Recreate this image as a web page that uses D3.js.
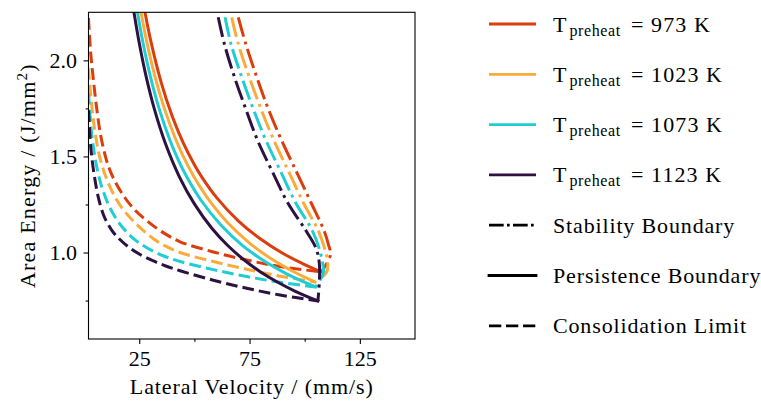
<!DOCTYPE html>
<html>
<head>
<meta charset="utf-8">
<script src="https://cdn.jsdelivr.net/npm/d3@7"></script>
<style>
  html, body { margin: 0; padding: 0; background: #fff; }
  svg { display: block; }
  text { font-family: "Liberation Serif", "Times New Roman", serif; fill: #000; }
</style>
</head>
<body>
<svg id="chart" width="761" height="401"></svg>
<script>
// Preheat temperatures (K), one colour per temperature
const temperatures = [973, 1023, 1073, 1123];

// Persistence boundary: [lateral velocity (mm/s), area energy (J/mm^2)]
const persistence973 = [[27.6,2.25],[30,2.113],[35,1.883],[40,1.708],[45,1.569],[50,1.457],[53.3,1.394],[60,1.287],[70,1.163],[80,1.07],[90,0.996],[100,0.937],[107.6,0.899]];
const persistence1023 = [[25.8,2.25],[28,2.119],[32,1.922],[36,1.763],[41,1.604],[45,1.499],[49.8,1.394],[56,1.283],[65,1.156],[75,1.049],[85,0.966],[95,0.9],[104.7,0.847]];
const persistence1073 = [[24.2,2.25],[26.5,2.103],[30,1.918],[34,1.749],[39,1.582],[43,1.474],[46.5,1.394],[53,1.272],[62,1.143],[72,1.035],[82,0.953],[92,0.888],[104.9,0.821]];
const persistence1123 = [[22.6,2.25],[25,2.09],[28,1.922],[32,1.741],[37,1.563],[43.2,1.394],[50,1.253],[58,1.125],[65,1.038],[73,0.957],[80,0.899],[88,0.844],[96,0.797],[106,0.748]];

// Consolidation limit
const consolidation973 = [[2.0,2.22],[2.6,2.10],[3.3,2.0],[4.2,1.9],[5.5,1.77],[7.2,1.63],[9.0,1.53],[11,1.45],[14,1.37],[18.5,1.285],[23,1.222],[28.4,1.166],[35,1.11],[43.5,1.056],[58.6,1.003],[73.7,0.961],[88.8,0.927],[107.6,0.899]];
const consolidation1023 = [[2.0,1.96],[3.0,1.82],[4.0,1.71],[5.2,1.61],[7,1.5],[9.5,1.405],[12,1.335],[15.5,1.26],[19,1.205],[23.1,1.155],[27,1.113],[31.4,1.072],[37,1.033],[43.5,1.0],[58.6,0.953],[73.7,0.913],[88.8,0.877],[104.7,0.847]];
const consolidation1073 = [[2.0,1.83],[3.0,1.67],[4.2,1.55],[6,1.43],[8,1.342],[11,1.25],[14,1.186],[17.5,1.13],[21.6,1.08],[26,1.042],[31.4,1.006],[37,0.978],[43.5,0.953],[58.6,0.911],[73.7,0.875],[88.8,0.845],[104.9,0.821]];
const consolidation1123 = [[2.0,1.74],[2.8,1.58],[3.45,1.5],[4.5,1.41],[6.4,1.29],[9,1.19],[12.5,1.117],[16,1.07],[20,1.03],[25,0.992],[31.4,0.956],[37,0.93],[43.5,0.905],[58.6,0.856],[73.7,0.814],[88.8,0.779],[106,0.748]];

// Stability boundary
const stability973 = [[69.9,2.224],[73.3,2.085],[78.2,1.915],[83.5,1.747],[89.6,1.582],[96.4,1.417],[102.9,1.259],[108.8,1.113],[110.8,1.04],[111.7,0.99],[107.6,0.899]];
const stability1023 = [[66.9,2.224],[69.9,2.085],[74.8,1.915],[80.2,1.747],[86.1,1.582],[92.9,1.417],[99.4,1.259],[106.2,1.113],[108.8,1.03],[110.3,0.96],[110.0,0.90],[104.7,0.847]];
const stability1073 = [[63.9,2.224],[66.6,2.085],[71.4,1.915],[76.7,1.747],[82.5,1.582],[89.3,1.417],[95.9,1.259],[103.5,1.113],[106.6,1.02],[108.2,0.94],[108.4,0.89],[104.9,0.821]];
const stability1123 = [[60.8,2.224],[63.6,2.085],[68.1,1.915],[73.3,1.747],[78.7,1.582],[85.5,1.417],[92.3,1.259],[100.6,1.113],[105.2,1.02],[106.6,0.947],[106.7,0.86],[106.0,0.748]];

// Axis ticks
const xMajorTicks = [25, 75, 125];
const xMinorTicks = [50, 100];
const yMajorTicks = [1.0, 1.5, 2.0];
const yMinorTicks = [0.75, 1.25, 1.75];

// Line-style legend entries
const boundaryNames = ["Stability Boundary", "Persistence Boundary", "Consolidation Limit"];

// ---- styling ----
const palette = ["#dc3d0c", "#fbab3c", "#1fcdd2", "#2c1141"];
const lineWidth = 3;
const dashStyles = {
  stability: "20 5 3 5",
  persistence: null,
  consolidation: "11.7 5.1"
};

const svg = d3.select("#chart");
const plotLeft = 88.5, plotRight = 415, plotTop = 12.3, plotBottom = 339;

const x = d3.scaleLinear().domain([2, 150]).range([plotLeft, plotRight]);
const y = d3.scaleLinear().domain([0.55, 2.25]).range([plotBottom, plotTop]);

svg.append("defs").append("clipPath").attr("id", "plotClip")
  .append("rect").attr("x", plotLeft).attr("y", plotTop)
  .attr("width", plotRight - plotLeft).attr("height", plotBottom - plotTop);

const line = d3.line()
  .x(d => x(d[0])).y(d => y(d[1]))
  .curve(d3.curveCatmullRom.alpha(0.5));

const curves = [
  { s: stability973, p: persistence973, c: consolidation973 },
  { s: stability1023, p: persistence1023, c: consolidation1023 },
  { s: stability1073, p: persistence1073, c: consolidation1073 },
  { s: stability1123, p: persistence1123, c: consolidation1123 }
];

const plot = svg.append("g").attr("clip-path", "url(#plotClip)");
curves.forEach((set, i) => {
  [["s", "stability"], ["p", "persistence"], ["c", "consolidation"]].forEach(([k, style]) => {
    plot.append("path")
      .datum(set[k])
      .attr("d", line)
      .attr("fill", "none")
      .attr("stroke", palette[i])
      .attr("stroke-width", lineWidth)
      .attr("stroke-linecap", style === "persistence" ? "square" : "butt")
      .attr("stroke-linejoin", "round")
      .attr("stroke-dasharray", dashStyles[style]);
  });
});

// ---- axes ----
const fontSize = 22;
function styleAxis(g) {
  g.select(".domain").remove();
  g.selectAll(".tick line").attr("stroke", "#000").attr("stroke-width", 1.1);
  g.selectAll(".tick text")
    .attr("font-family", "Liberation Serif, serif")
    .attr("font-size", fontSize);
}

svg.append("g").attr("transform", `translate(0,${plotBottom})`)
  .call(d3.axisBottom(x).tickValues(xMajorTicks).tickSize(4.9).tickPadding(6.5).tickFormat(d3.format("d")))
  .call(styleAxis);
svg.append("g").attr("transform", `translate(0,${plotBottom})`)
  .call(d3.axisBottom(x).tickValues(xMinorTicks).tickSize(2.8).tickFormat(""))
  .call(styleAxis);
svg.append("g").attr("transform", `translate(${plotLeft},0)`)
  .call(d3.axisLeft(y).tickValues(yMajorTicks).tickSize(4.9).tickPadding(6.6).tickFormat(d3.format(".1f")))
  .call(styleAxis);
svg.append("g").attr("transform", `translate(${plotLeft},0)`)
  .call(d3.axisLeft(y).tickValues(yMinorTicks).tickSize(2.8).tickFormat(""))
  .call(styleAxis);

svg.append("rect")
  .attr("x", plotLeft).attr("y", plotTop)
  .attr("width", plotRight - plotLeft).attr("height", plotBottom - plotTop)
  .attr("fill", "none").attr("stroke", "#000").attr("stroke-width", 1.1);

// axis titles
svg.append("text")
  .attr("x", (plotLeft + plotRight) / 2).attr("y", 393.5)
  .attr("text-anchor", "middle")
  .attr("font-size", fontSize).attr("letter-spacing", 0.9)
  .text("Lateral Velocity / (mm/s)");

const yTitle = svg.append("text")
  .attr("transform", `translate(34.5,${(plotTop + plotBottom) / 2}) rotate(-90)`)
  .attr("text-anchor", "middle")
  .attr("font-size", fontSize).attr("letter-spacing", 1.2);
yTitle.append("tspan").text("Area Energy / (J/mm");
yTitle.append("tspan").attr("font-size", 15).attr("dy", -8).text("2");
yTitle.append("tspan").attr("dy", 8).text(")");

// ---- legend ----
const legendX0 = 489, legendX1 = 536, textX = 553;
const rowY = i => 24 + 50.3 * i;

temperatures.forEach((t, i) => {
  const yy = rowY(i);
  svg.append("line")
    .attr("x1", legendX0).attr("x2", legendX1).attr("y1", yy).attr("y2", yy)
    .attr("stroke", palette[i]).attr("stroke-width", 2.8);
  const txt = svg.append("text").attr("y", yy + 7.5).attr("font-size", fontSize);
  txt.append("tspan").attr("x", textX).text("T");
  txt.append("tspan").attr("x", textX + 16.5).attr("dy", 4).attr("font-size", 16)
    .attr("letter-spacing", 0.6).text("preheat");
  txt.append("tspan").attr("x", textX + 78).attr("dy", -4).attr("letter-spacing", 1.1)
    .text(`= ${t} K`);
});

const styleKeys = ["stability", "persistence", "consolidation"];
const legendDash = { stability: "14.7 3.3 2.7 3.3", persistence: null, consolidation: "12.3 4.7" };
boundaryNames.forEach((name, j) => {
  const yy = rowY(4 + j);
  const key = styleKeys[j];
  svg.append("line")
    .attr("x1", legendX0).attr("x2", legendX1).attr("y1", yy).attr("y2", yy)
    .attr("stroke", "#000").attr("stroke-width", 2.8)
    .attr("stroke-linecap", key === "persistence" ? "square" : "butt")
    .attr("stroke-dasharray", legendDash[key]);
  svg.append("text")
    .attr("x", textX).attr("y", yy + 7.5)
    .attr("font-size", fontSize).attr("letter-spacing", 0.85)
    .text(name);
});
</script>
</body>
</html>
